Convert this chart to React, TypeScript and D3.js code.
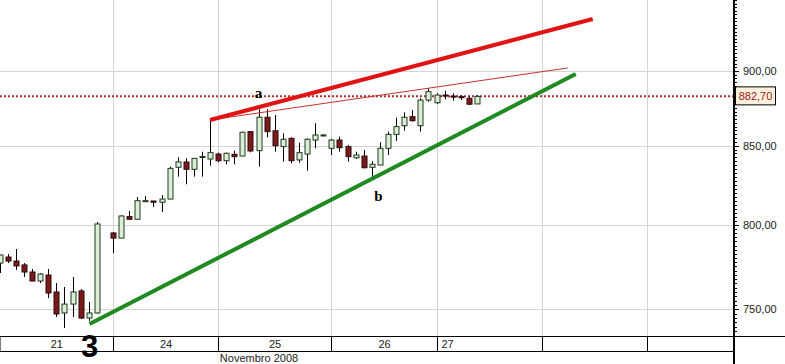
import React from "react";
import * as d3 from "d3";

// hourly slots (13 per day, 14 on the 25th); slot 13 had no trade
const slots = [0, 1, 2, 3, 4, 5, 6, 7, 8, 9, 10, 11, 12, 14, 15, 16, 17, 18, 19, 20, 21, 22, 23, 24, 25, 26, 27, 28, 29, 30, 31, 32, 33, 34, 35, 36, 37, 38, 39, 40, 41, 42, 43, 44, 45, 46, 47, 48, 49, 50, 51, 52, 53, 54, 55, 56, 57, 58, 59];
const opens = [777.0, 780.6, 778.2, 775.9, 771.7, 766.4, 769.9, 760.0, 747.9, 753.0, 760.6, 745.0, 747.9, 795.1, 792.0, 805.1, 803.5, 814.4, 814.8, 814.0, 816.0, 836.1, 839.5, 834.8, 843.0, 841.4, 844.6, 840.3, 844.4, 843.3, 859.2, 846.8, 868.7, 859.8, 849.4, 854.8, 840.8, 844.6, 853.7, 857.0, 848.3, 853.7, 849.4, 842.2, 843.3, 836.1, 837.5, 848.3, 857.4, 863.1, 869.1, 863.1, 880.2, 878.4, 883.6, 882.9, 882.5, 881.4, 877.6];
const highs = [782.0, 782.4, 785.4, 777.0, 773.5, 771.1, 773.5, 765.2, 762.9, 768.8, 761.7, 754.2, 801.8, 795.7, 806.1, 808.6, 817.3, 817.9, 814.8, 818.5, 836.5, 842.5, 841.8, 841.8, 846.1, 866.9, 845.5, 845.5, 846.8, 859.2, 859.2, 874.0, 874.0, 870.2, 858.1, 855.5, 852.0, 854.8, 864.7, 857.4, 854.4, 855.9, 850.5, 846.1, 847.2, 840.1, 852.2, 859.2, 868.4, 872.0, 873.5, 881.4, 888.2, 884.8, 886.5, 884.8, 883.6, 882.5, 883.6];
const lows = [771.1, 777.0, 772.9, 768.8, 766.4, 765.2, 756.5, 745.6, 739.3, 745.6, 744.4, 743.3, 747.5, 783.0, 792.0, 803.0, 803.5, 814.2, 811.0, 808.0, 816.0, 830.1, 825.3, 830.1, 830.1, 837.1, 839.3, 838.0, 838.0, 843.3, 845.7, 836.5, 855.5, 846.1, 839.7, 838.6, 839.0, 833.9, 848.3, 856.6, 844.0, 846.1, 839.7, 841.4, 835.4, 829.1, 837.5, 844.0, 853.1, 859.8, 865.8, 859.2, 879.1, 877.6, 880.7, 879.8, 880.2, 876.9, 877.6];
const closes = [781.8, 778.2, 775.3, 771.7, 766.4, 770.5, 759.4, 747.3, 753.0, 760.0, 745.0, 747.9, 800.6, 792.0, 805.5, 803.5, 815.0, 815.0, 814.0, 816.0, 835.4, 839.5, 834.8, 841.8, 843.0, 845.5, 840.3, 845.1, 842.9, 858.8, 846.6, 868.7, 859.2, 850.0, 854.2, 840.3, 845.5, 854.2, 857.0, 857.0, 853.7, 848.7, 842.9, 844.0, 835.8, 838.0, 848.3, 857.4, 862.5, 868.7, 866.4, 880.2, 885.9, 883.6, 882.9, 882.5, 881.8, 877.4, 882.7];

const dayStarts = [0, 14, 27, 41, 54, 67, 80];
const dayLabels = ["21", "24", "25", "26", "27", "", ""];
const yTicks = [750, 800, 850, 900];
const lastPrice = 882.7;

// trend lines: [slot, value]
const redThick: [number, number][] = [[26, 866.9], [73.3, 936.5]];
const redThin: [number, number][] = [[26, 866.9], [70.2, 902.1]];
const greenLine: [number, number][] = [[11.1, 741.6], [71.2, 897.9]];

const W = 785;
const H = 364;
const plotR = 734;
const plotB = 336;
const bandB = 351;

const fmt = (v: number) => d3.format(".2f")(v).replace(".", ",");

export default function App() {
  const x = d3.scaleLinear().domain([0, 91]).range([-0.3, 735.9]);
  const y = d3.scaleLog().domain([750, 900]).range([309.3, 71]);
  const line = d3
    .line<[number, number]>()
    .x(d => x(d[0]))
    .y(d => y(d[1]));

  const minor = d3.range(737.5, 951, 2.5);
  const cellEdges = dayStarts.map(s => (s === 0 ? 0 : Math.round(x(s)) + 0.5));
  cellEdges.push(plotR);

  const font = "'Liberation Sans', Arial, sans-serif";

  return (
    <svg
      width={W}
      height={H}
      style={{ position: "absolute", left: 0, top: 0, background: "#fff" }}
    >
      <defs>
        <clipPath id="plot">
          <rect x={0} y={0} width={plotR} height={plotB} />
        </clipPath>
      </defs>

      {/* grid */}
      {yTicks.map(t => (
        <line key={t} x1={0} x2={plotR} y1={Math.round(y(t)) + 0.5} y2={Math.round(y(t)) + 0.5} stroke="#d4d4d4" />
      ))}
      {dayStarts.slice(1).map(s => (
        <line key={s} x1={Math.round(x(s)) + 0.5} x2={Math.round(x(s)) + 0.5} y1={0} y2={plotB} stroke="#d4d4d4" />
      ))}

      <g clipPath="url(#plot)">
        {/* last price dotted line */}
        <line x1={0} x2={plotR} y1={y(lastPrice)} y2={y(lastPrice)} stroke="#b02a2a" strokeWidth={2} strokeDasharray="2,2" />

        {/* candles */}
        {slots.map((s, i) => {
          const o = opens[i], c = closes[i];
          const cx = Math.round(x(s)) + 0.5;
          const top = y(Math.max(o, c));
          const bot = y(Math.min(o, c));
          const up = c >= o;
          return (
            <g key={s}>
              <line x1={cx} x2={cx} y1={y(highs[i])} y2={y(lows[i])} stroke="#000" strokeWidth={1} />
              <rect
                x={cx - 2.5}
                y={top}
                width={5}
                height={Math.max(bot - top, 1)}
                fill={up ? "#dcefd6" : "#7a1a1a"}
                stroke={up ? "#1d3a1d" : "#2a0a0a"}
                strokeWidth={1}
              />
            </g>
          );
        })}

        {/* trend lines */}
        <path d={line(greenLine) || ""} stroke="#1f8a1f" strokeWidth={4} fill="none" />
        <path d={line(redThin) || ""} stroke="#c83030" strokeWidth={1} fill="none" />
        <path d={line(redThick) || ""} stroke="#e01414" strokeWidth={4} fill="none" />
      </g>

      {/* annotations */}
      <text x={x(32)} y={y(874) - 11} textAnchor="middle" fontFamily="'Liberation Serif', serif" fontWeight="bold" fontSize={15}>a</text>
      <text x={x(46.8)} y={y(829.1) + 23} textAnchor="middle" fontFamily="'Liberation Serif', serif" fontWeight="bold" fontSize={15}>b</text>

      {/* y axis */}
      <line x1={plotR} x2={plotR} y1={0} y2={H} stroke="#000" strokeWidth={2} />
      {minor.map(v => (
        <line key={v} x1={plotR} x2={plotR + 3} y1={Math.round(y(v)) + 0.5} y2={Math.round(y(v)) + 0.5} stroke="#000" />
      ))}
      {yTicks.map(t => (
        <g key={t}>
          <line x1={plotR} x2={plotR + 5} y1={Math.round(y(t)) + 0.5} y2={Math.round(y(t)) + 0.5} stroke="#000" />
          <text x={743} y={y(t) + 4} fontFamily={font} fontSize={11} fill="#222">{fmt(t)}</text>
        </g>
      ))}
      <rect x={735.5} y={y(lastPrice) - 9.5} width={40} height={18} fill="#fff2dc" stroke="#000" />
      <text x={755.5} y={y(lastPrice) + 4} textAnchor="middle" fontFamily={font} fontSize={11} fill="#a02020">{fmt(lastPrice)}</text>

      {/* date band */}
      <line x1={0} x2={W} y1={plotB + 0.5} y2={plotB + 0.5} stroke="#000" />
      <line x1={0} x2={plotR} y1={bandB + 0.5} y2={bandB + 0.5} stroke="#000" />
      {cellEdges.slice(0, -1).map((e, i) => (
        <line key={i} x1={e} x2={e} y1={plotB} y2={bandB} stroke="#000" />
      ))}
      {dayLabels.map((lab, i) =>
        i === 4 ? (
          <text key={i} x={cellEdges[i] + 4} y={bandB - 3} fontFamily={font} fontSize={11} fill="#222">{lab}</text>
        ) : (
          <text key={i} x={(cellEdges[i] + cellEdges[i + 1]) / 2} y={bandB - 3} textAnchor="middle" fontFamily={font} fontSize={11} fill="#222">{lab}</text>
        )
      )}
      <text x={259} y={362} textAnchor="middle" fontFamily={font} fontSize={11} fill="#222">Novembro 2008</text>

      <text x={x(11.1)} y={357} textAnchor="middle" fontFamily={font} fontWeight="bold" fontSize={31} fill="#000">3</text>
    </svg>
  );
}
